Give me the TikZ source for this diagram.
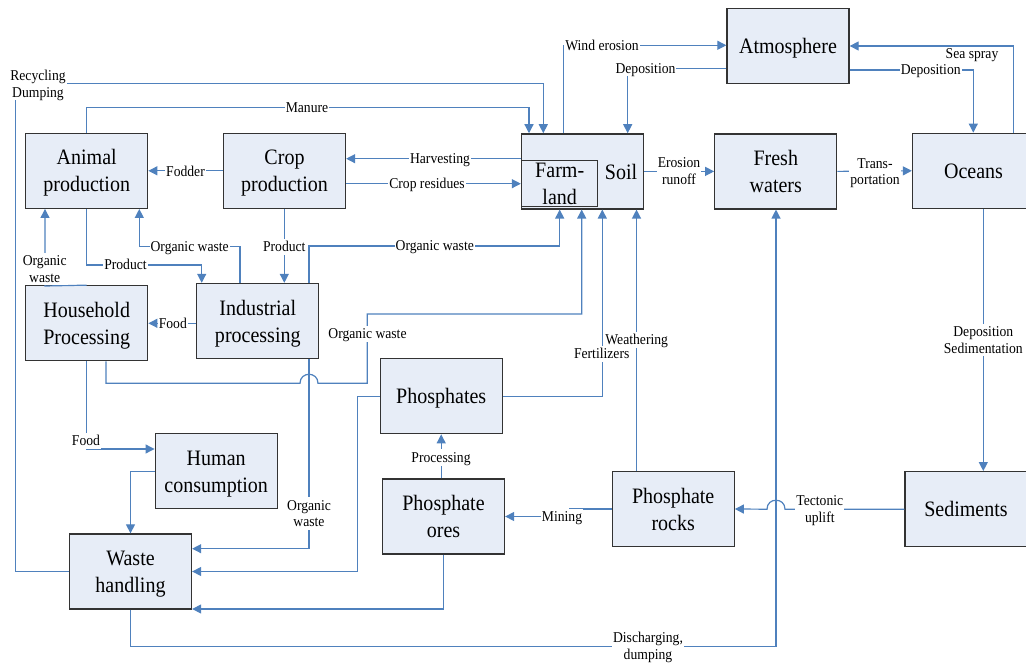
\documentclass[tikz,border=0pt]{standalone}
\usepackage{fontspec}
\setmainfont{Liberation Serif}
\newfontfamily\narrowserif[FakeStretch=0.91]{Liberation Serif}
\usetikzlibrary{arrows.meta}
\definecolor{flowblue}{HTML}{4F81BD}
\definecolor{boxfill}{HTML}{E7EDF7}
\definecolor{boxedge}{HTML}{333333}
\newcommand\bxfont{\narrowserif\fontsize{22}{27}\selectfont}
\newcommand\lbfont{\narrowserif\fontsize{15}{16.6}\selectfont}
% fixed line struts so every caption sits at the same height in its box
\newcommand\bxtop{\rule{0pt}{22pt}}
\newcommand\bxbot{\rule[-6.7pt]{0pt}{6.7pt}}
\newcommand\lbtop{\rule{0pt}{13pt}}
\newcommand\lbbot{\rule[-3pt]{0pt}{3pt}}
\tikzset{
  bxtext/.style={font=\bxfont, align=center},
  box/.style={bxtext, draw=boxedge, fill=boxfill, line width=1.3pt, minimum width=122pt,
    minimum height=75pt, inner sep=0pt},
  inbox/.style={draw=boxedge, line width=1.3pt, minimum width=76pt,
    minimum height=46pt, inner sep=0pt},
  flow/.style={draw=flowblue, line width=1.2pt, -{Triangle[length=9pt,width=9pt]}},
  lbltext/.style={inner xsep=1pt, inner ysep=0pt, font=\lbfont, align=center, text=black},
  lbl/.style={lbltext, fill=white},
}
\begin{document}
\begin{tikzpicture}[x=1pt,y=-1pt]
\useasboundingbox (0,0) rectangle (1026,663);
\clip (0,0) rectangle (1026,663);

% compartments
\node[box] (animal)     at (86.7,170.8)  {\bxtop Animal\\production\bxbot};
\node[box] (crop)       at (284.5,170.8) {\bxtop Crop\\production\bxbot};
\node[box] (soil)       at (582.5,171.4) {};
\node[inbox] (farmland) at (559.7,183.8) {};
\node[bxtext] (farmtext) at (farmland.center) {\bxtop Farm-\\land\bxbot};
\node[bxtext] (soiltext) at (621,171.4) {\bxtop Soil\bxbot};
\node[box] (atm)        at (788,45.8)    {\bxtop Atmosphere\bxbot};
\node[box] (fresh)      at (775.8,171.4) {\bxtop Fresh\\waters\bxbot};
\node[box] (oceans)     at (973.5,170.8) {\bxtop Oceans\bxbot};
\node[box] (household)  at (86.7,323.3)  {\bxtop Household\\Processing\bxbot};
\node[box] (industrial) at (257.8,321)   {\bxtop Industrial\\processing\bxbot};
\node[box] (human)      at (216.2,471.2) {\bxtop Human\\consumption\bxbot};
\node[box] (waste)      at (130.5,571.5) {\bxtop Waste\\handling\bxbot};
\node[box] (phosphates) at (441.2,396.2) {\bxtop Phosphates\bxbot};
\node[box] (ores)       at (443.5,516.5) {\bxtop Phosphate\\ores\bxbot};
\node[box] (rocks)      at (673.2,509)   {\bxtop Phosphate\\rocks\bxbot};
\node[box] (sediments)  at (966,509.2)   {\bxtop Sediments\bxbot};

% flows around the soil
\draw[flow] (waste.west) -- (15.7,571.5) -- (15.7,83.3) -- (543.3,83.3) -- (soil.north -| 543.3,0);
\draw[flow] (animal.north) -- (86.7,107.3) -- (529,107.3) -- (soil.north -| 529,0);
\draw[flow] (soil.west |- 0,158.7) -- (crop.east |- 0,158.7);
\draw[flow] (crop.east |- 0,183.7) -- (soil.west |- 0,183.7);
\draw[flow] (crop.west) -- (animal.east);
\draw[flow] (soil.north -| 563.3,0) -- (563.3,45.3) -- (atm.west |- 0,45.3);
\draw[flow] (atm.west |- 0,68.3) -- (627.7,68.3) -- (soil.north -| 627.7,0);
\draw[flow] (soil.east) -- (fresh.west);
\draw[flow] (atm.east |- 0,70) -- (973.3,70) -- (oceans.north -| 973.3,0);
\draw[flow] (oceans.north -| 1013.3,0) -- (1013.3,46) -- (atm.east |- 0,46);
\draw[flow] (fresh.east) -- (oceans.west);
\draw[flow] (oceans.south -| 983.3,0) -- (sediments.north -| 983.3,0);
\draw[flow] (sediments.west) -- (785,509.2) .. controls (785,497.2) and (767,497.2) .. (767,509.2) -- (rocks.east);
\draw[flow] (waste.south) -- (130.5,646.7) -- (776,646.7) -- (fresh.south -| 776,0);
\draw[flow] (rocks.north -| 636.5,0) -- (soil.south -| 636.5,0);
\draw[flow] (phosphates.east) -- (602.3,396.2) -- (soil.south -| 602.3,0);
\draw[flow] (rocks.west) -- (570,509) -- (570,516.5) -- (ores.east);
\draw[flow] (ores.north -| phosphates.south) -- (phosphates.south);
\draw[flow] (ores.south) -- (443.5,609) -- (waste.east |- 0,609);
\draw[flow] (phosphates.west) -- (357.7,396.2) -- (357.7,571.5) -- (waste.east);
\draw[flow] (industrial.south -| 309,0) -- (309,548.7) -- (waste.east |- 0,548.7);
\draw[flow] (household.south -| 106,0) -- (106,383.3) -- (300,383.3)
  .. controls (300,371.3) and (318,371.3) .. (318,383.3) -- (367.3,383.3)
  -- (367.3,314) -- (581.7,314) -- (soil.south -| 581.7,0);
\draw[flow] (industrial.north -| 309,0) -- (309,246) -- (559.7,246) -- (soil.south -| 559.7,0);
\draw[flow] (crop.south -| 284.3,0) -- (industrial.north -| 284.3,0);
\draw[flow] (industrial.north -| 240,0) -- (240,246.7) -- (139.3,246.7) -- (animal.south -| 139.3,0);
\draw[flow] (animal.south) -- (86.7,265) -- (201.7,265) -- (industrial.north -| 201.7,0);
\draw[flow] (household.north) -- (45,286) -- (animal.south -| 45,0);
\draw[flow] (industrial.west |- 0,323.3) -- (household.east |- 0,323.3);
\draw[flow] (household.south) -- (86.7,449) -- (human.west |- 0,449);
\draw[flow] (human.west) -- (130.5,471.2) -- (waste.north);

% flow labels
\node[lbl] (lrecyc)   at (38,84)      {\lbtop Recycling\\Dumping\lbbot};
\node[lbl] (lmanure)  at (307,107.3)  {\lbtop Manure\lbbot};
\node[lbl] (lharv)    at (440,158.7)  {\lbtop Harvesting\lbbot};
\node[lbl] (lresid)   at (427,183.7)  {\lbtop Crop residues\lbbot};
\node[lbl] (lfodder)  at (185.5,171.5){\lbtop Fodder\lbbot};
\node[lbl] (lwind)    at (602,45.3)   {\lbtop Wind erosion\lbbot};
\node[lbl] (ldepsoil) at (645.5,68.3) {\lbtop Deposition\lbbot};
\node[lbl] (lrunoff)  at (679,171)    {\lbtop Erosion\\runoff\lbbot};
\node[lbl] (ldepoc)   at (930.7,70)   {\lbtop Deposition\lbbot};
\node[lbltext] (lspray) at (972,53.5) {\lbtop Sea spray\lbbot};
\node[lbl] (ltrans)   at (875,171.4)  {\lbtop Trans-\\portation\lbbot};
\node[lbl] (lsedim)   at (983.3,340)  {\lbtop Deposition\\Sedimentation\lbbot};
\node[lbl] (luplift)  at (819.8,509)  {\lbtop Tectonic\\uplift\lbbot};
\node[lbl] (ldisch)   at (648,646)    {\lbtop Discharging,\\dumping\lbbot};
\node[lbl] (lweath)   at (636.7,340)  {\lbtop Weathering\lbbot};
\node[lbl] (lfert)    at (601.7,353.5){\lbtop Fertilizers\lbbot};
\node[lbl] (lmining)  at (562,516.7)  {\lbtop Mining\lbbot};
\node[lbl] (lproc)    at (441,457.5)  {\lbtop Processing\lbbot};
\node[lbl] (lowaste1) at (309,513.5)  {\lbtop Organic\\waste\lbbot};
\node[lbl] (lowaste2) at (367.5,334)  {\lbtop Organic waste\lbbot};
\node[lbl] (lowaste3) at (434.8,246)  {\lbtop Organic waste\lbbot};
\node[lbl] (lprod1)   at (284.3,246.7){\lbtop Product\lbbot};
\node[lbl] (lowaste4) at (189.7,246.7){\lbtop Organic waste\lbbot};
\node[lbl] (lprod2)   at (125.5,265)  {\lbtop Product\lbbot};
\node[lbl] (lowaste5) at (44.7,269)   {\lbtop Organic\\waste\lbbot};
\node[lbl] (lfood1)   at (172.8,323.3){\lbtop Food\lbbot};
\node[lbl] (lfood2)   at (86,440.7)   {\lbtop Food\lbbot};
\end{tikzpicture}
\end{document}
